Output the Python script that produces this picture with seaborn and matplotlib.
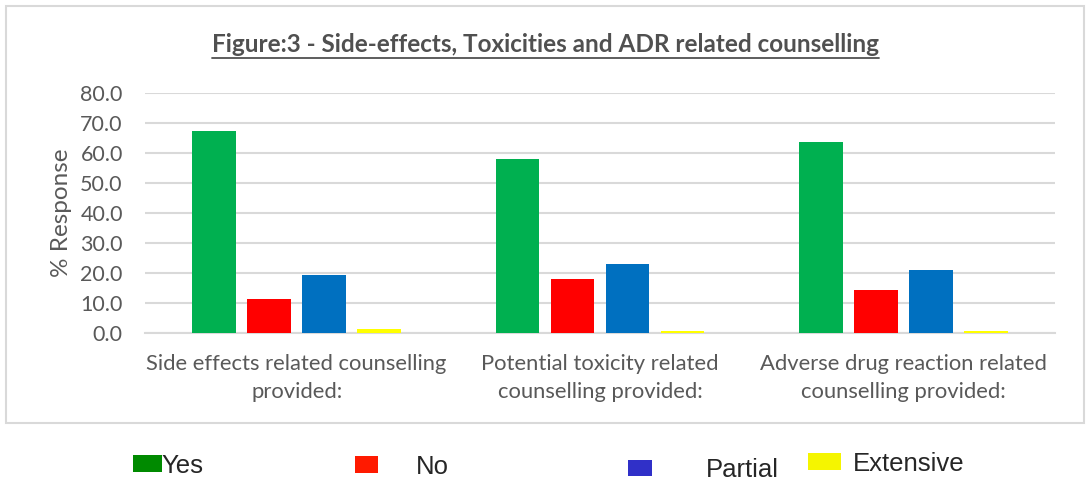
import matplotlib
matplotlib.use("Agg")
import matplotlib.pyplot as plt
import matplotlib.patches as mpatches
import seaborn as sns
import pandas as pd

categories = [
    "Side effects related counselling\nprovided:",
    "Potential toxicity related\ncounselling provided:",
    "Adverse drug reaction related\ncounselling provided:",
]
responses = ["Yes", "No", "Partial", "Extensive"]
yes_vals = [67.3, 57.9, 63.7]
no_vals = [11.5, 18.0, 14.5]
partial_vals = [19.5, 23.1, 20.9]
extensive_vals = [1.2, 0.6, 0.6]
yticks = [0, 10, 20, 30, 40, 50, 60, 70, 80]
title = "Figure:3 - Side-effects, Toxicities and ADR related counselling"
ylabel = "% Response"

bar_colors = ["#00B050", "#FF0000", "#0070C0", "#FFFF00"]
legend_colors = ["#008A00", "#FF1A00", "#3030C8", "#F5F500"]

rows = []
for resp, vals in zip(responses, [yes_vals, no_vals, partial_vals, extensive_vals]):
    for cat, v in zip(categories, vals):
        rows.append({"category": cat, "response": resp, "value": v})
df = pd.DataFrame(rows)

sns.set_theme(style="white")
plt.rcParams["font.family"] = ["Lato", "DejaVu Sans"]

fig = plt.figure(figsize=(10.88, 4.8), dpi=100)
ax = fig.add_axes([145 / 1088, 1 - 333 / 480, 910 / 1088, 240 / 480])

sns.barplot(data=df, x="category", y="value", hue="response", order=categories,
            hue_order=responses, palette=bar_colors, width=0.725, gap=0.21,
            ax=ax, legend=False, errorbar=None, saturation=1, linewidth=0, zorder=3)

ax.set_ylim(0, 80)
ax.set_xlim(-0.5, 2.5)
ax.set_yticks(yticks)
ax.set_yticklabels([f"{t:.1f}" for t in yticks], fontsize=15.5, color="#595959")
ax.tick_params(axis="x", labelsize=15.8, labelcolor="#595959", length=0, pad=15)
for lab in ax.get_xticklabels():
    lab.set_linespacing(1.5)
ax.tick_params(axis="y", length=0, pad=16)
ax.yaxis.grid(True, color="#D9D9D9", linewidth=1.5)
ax.set_axisbelow(True)
for s in ["top", "right", "left"]:
    ax.spines[s].set_visible(False)
ax.spines["bottom"].set_color("#D9D9D9")
ax.spines["bottom"].set_linewidth(1.5)
ax.spines["bottom"].set_zorder(1)
ax.set_xlabel("")
ax.set_ylabel(ylabel, fontsize=17.5, color="#595959", labelpad=6)

fig.text(545 / 1088, 1 - 45 / 480, title, ha="center", va="center",
         fontsize=17.5, fontweight="bold", color="#505050")
# underline
ttl = fig.texts[-1]
fig.canvas.draw()
bb = ttl.get_window_extent()
fig.add_artist(plt.Line2D([bb.x0 / 1088, bb.x1 / 1088],
                          [(bb.y0 - 1) / 480, (bb.y0 - 1) / 480],
                          color="#505050", linewidth=1.3, transform=fig.transFigure))

fig.add_artist(mpatches.Rectangle((6 / 1088, 1 - 423 / 480), 1078 / 1088, 417 / 480,
                                  transform=fig.transFigure, fill=False,
                                  edgecolor="#D9D9D9", linewidth=1.5))

leg_font = ["Liberation Sans", "DejaVu Sans"]
leg_specs = [
    (133, 466, 1.12, 0.0, 0.64),
    (355, 467, 0.88, 1.5, 0.64),
    (628, 470, 0.92, 2.1, 0.6),
    (808, 464, 1.28, 0.48, 0.64),
]
for resp, col, (x, y, hl, tp, hh) in zip(responses, legend_colors, leg_specs):
    h = mpatches.Patch(facecolor=col, edgecolor="none")
    fig.legend([h], [resp], loc="center left", bbox_to_anchor=(x / 1088, 1 - y / 480),
               frameon=False, borderpad=0, borderaxespad=0, handlelength=hl,
               handletextpad=tp, handleheight=hh,
               prop={"family": leg_font, "size": 18.5})

fig.savefig("out.png", dpi=100)
